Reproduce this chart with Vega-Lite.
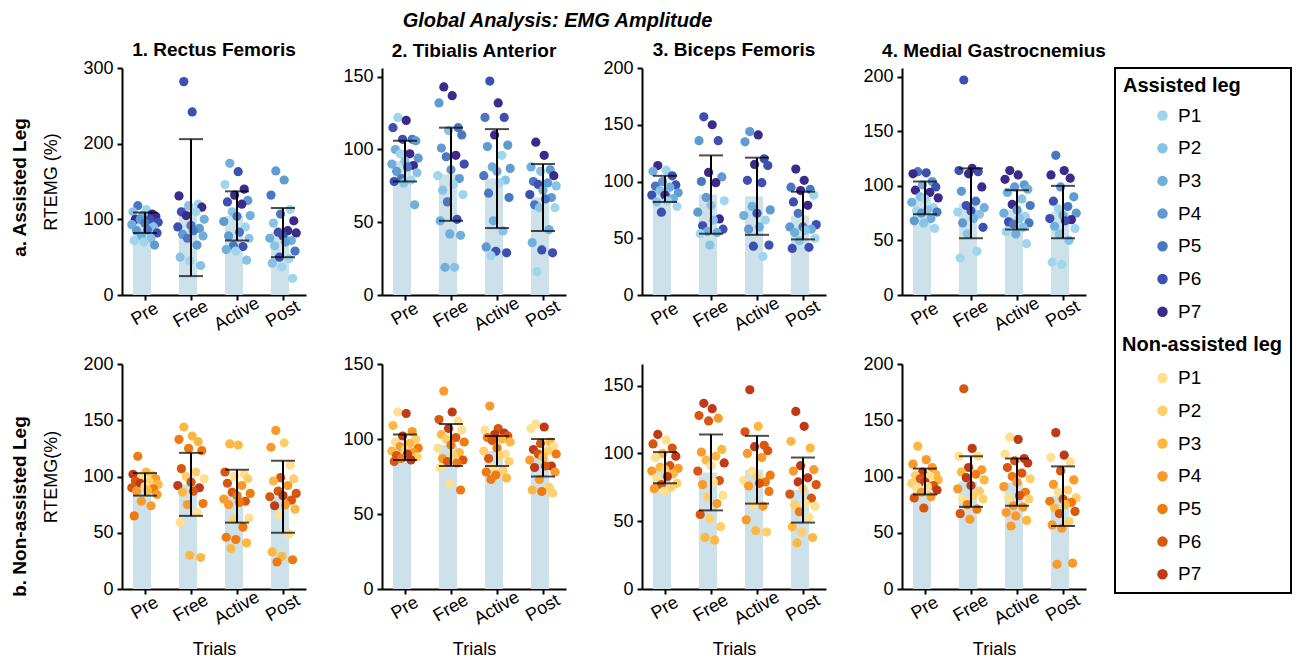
{
  "$schema": "https://vega.github.io/schema/vega-lite/v6.json",
  "background": "white",
  "padding": {"left": 10, "top": 11, "right": 5, "bottom": 5},
  "title": {"text": "Global Analysis: EMG Amplitude", "fontStyle": "italic", "fontWeight": "bold", "fontSize": 20, "anchor": "middle", "offset": 10, "dx": -94},
  "datasets": {
    "bars": [
      {"leg": "A", "muscle": "RF", "trial": "Pre", "mean": 95.5, "lo": 82, "hi": 109},
      {"leg": "A", "muscle": "RF", "trial": "Free", "mean": 115.5, "lo": 25, "hi": 206},
      {"leg": "A", "muscle": "RF", "trial": "Active", "mean": 104.5, "lo": 72, "hi": 137},
      {"leg": "A", "muscle": "RF", "trial": "Post", "mean": 82.5, "lo": 50, "hi": 115},
      {"leg": "A", "muscle": "TA", "trial": "Pre", "mean": 92, "lo": 78, "hi": 106},
      {"leg": "A", "muscle": "TA", "trial": "Free", "mean": 83, "lo": 51, "hi": 115},
      {"leg": "A", "muscle": "TA", "trial": "Active", "mean": 80, "lo": 46, "hi": 114},
      {"leg": "A", "muscle": "TA", "trial": "Post", "mean": 67, "lo": 44, "hi": 90},
      {"leg": "A", "muscle": "BF", "trial": "Pre", "mean": 93, "lo": 82, "hi": 105},
      {"leg": "A", "muscle": "BF", "trial": "Free", "mean": 88.5, "lo": 54, "hi": 123},
      {"leg": "A", "muscle": "BF", "trial": "Active", "mean": 87, "lo": 53, "hi": 121},
      {"leg": "A", "muscle": "BF", "trial": "Post", "mean": 70, "lo": 49, "hi": 91},
      {"leg": "A", "muscle": "MG", "trial": "Pre", "mean": 89, "lo": 74, "hi": 104},
      {"leg": "A", "muscle": "MG", "trial": "Free", "mean": 84, "lo": 52, "hi": 116},
      {"leg": "A", "muscle": "MG", "trial": "Active", "mean": 78, "lo": 60, "hi": 96},
      {"leg": "A", "muscle": "MG", "trial": "Post", "mean": 76, "lo": 52, "hi": 100},
      {"leg": "N", "muscle": "RF", "trial": "Pre", "mean": 93, "lo": 83, "hi": 103},
      {"leg": "N", "muscle": "RF", "trial": "Free", "mean": 93, "lo": 65, "hi": 121},
      {"leg": "N", "muscle": "RF", "trial": "Active", "mean": 82.5, "lo": 59, "hi": 106},
      {"leg": "N", "muscle": "RF", "trial": "Post", "mean": 82, "lo": 50, "hi": 114},
      {"leg": "N", "muscle": "TA", "trial": "Pre", "mean": 94.5, "lo": 86, "hi": 103},
      {"leg": "N", "muscle": "TA", "trial": "Free", "mean": 96, "lo": 82, "hi": 110},
      {"leg": "N", "muscle": "TA", "trial": "Active", "mean": 92, "lo": 82, "hi": 102},
      {"leg": "N", "muscle": "TA", "trial": "Post", "mean": 87.5, "lo": 75, "hi": 100},
      {"leg": "N", "muscle": "BF", "trial": "Pre", "mean": 89.5, "lo": 78, "hi": 101},
      {"leg": "N", "muscle": "BF", "trial": "Free", "mean": 86, "lo": 58, "hi": 114},
      {"leg": "N", "muscle": "BF", "trial": "Active", "mean": 88, "lo": 63, "hi": 113},
      {"leg": "N", "muscle": "BF", "trial": "Post", "mean": 73, "lo": 49, "hi": 97},
      {"leg": "N", "muscle": "MG", "trial": "Pre", "mean": 95.5, "lo": 84, "hi": 107},
      {"leg": "N", "muscle": "MG", "trial": "Free", "mean": 95.5, "lo": 73, "hi": 118},
      {"leg": "N", "muscle": "MG", "trial": "Active", "mean": 95, "lo": 74, "hi": 116},
      {"leg": "N", "muscle": "MG", "trial": "Post", "mean": 82.5, "lo": 56, "hi": 109}
    ],
    "A_RF": [
      {"trial": "Pre", "p": "P5", "v": 118}, {"trial": "Pre", "p": "P1", "v": 113}, {"trial": "Pre", "p": "P2", "v": 110}, {"trial": "Pre", "p": "P7", "v": 107}, {"trial": "Pre", "p": "P3", "v": 105}, {"trial": "Pre", "p": "P7", "v": 104}, {"trial": "Pre", "p": "P7", "v": 100}, {"trial": "Pre", "p": "P6", "v": 100}, {"trial": "Pre", "p": "P4", "v": 100}, {"trial": "Pre", "p": "P6", "v": 96}, {"trial": "Pre", "p": "P5", "v": 95}, {"trial": "Pre", "p": "P3", "v": 93}, {"trial": "Pre", "p": "P2", "v": 90}, {"trial": "Pre", "p": "P5", "v": 86}, {"trial": "Pre", "p": "P4", "v": 85}, {"trial": "Pre", "p": "P6", "v": 82}, {"trial": "Pre", "p": "P3", "v": 78}, {"trial": "Pre", "p": "P2", "v": 75}, {"trial": "Pre", "p": "P1", "v": 72}, {"trial": "Pre", "p": "P1", "v": 70}, {"trial": "Pre", "p": "P4", "v": 66},
      {"trial": "Free", "p": "P6", "v": 282}, {"trial": "Free", "p": "P6", "v": 242}, {"trial": "Free", "p": "P7", "v": 131}, {"trial": "Free", "p": "P1", "v": 120}, {"trial": "Free", "p": "P2", "v": 118}, {"trial": "Free", "p": "P7", "v": 116}, {"trial": "Free", "p": "P6", "v": 110}, {"trial": "Free", "p": "P1", "v": 110}, {"trial": "Free", "p": "P7", "v": 105}, {"trial": "Free", "p": "P3", "v": 100}, {"trial": "Free", "p": "P5", "v": 92}, {"trial": "Free", "p": "P6", "v": 90}, {"trial": "Free", "p": "P4", "v": 88}, {"trial": "Free", "p": "P5", "v": 85}, {"trial": "Free", "p": "P4", "v": 80}, {"trial": "Free", "p": "P3", "v": 78}, {"trial": "Free", "p": "P5", "v": 75}, {"trial": "Free", "p": "P4", "v": 66}, {"trial": "Free", "p": "P2", "v": 50}, {"trial": "Free", "p": "P1", "v": 45}, {"trial": "Free", "p": "P2", "v": 39},
      {"trial": "Active", "p": "P3", "v": 174}, {"trial": "Active", "p": "P6", "v": 163}, {"trial": "Active", "p": "P1", "v": 146}, {"trial": "Active", "p": "P7", "v": 140}, {"trial": "Active", "p": "P7", "v": 132}, {"trial": "Active", "p": "P4", "v": 125}, {"trial": "Active", "p": "P6", "v": 123}, {"trial": "Active", "p": "P7", "v": 120}, {"trial": "Active", "p": "P2", "v": 110}, {"trial": "Active", "p": "P3", "v": 105}, {"trial": "Active", "p": "P5", "v": 104}, {"trial": "Active", "p": "P4", "v": 97}, {"trial": "Active", "p": "P1", "v": 90}, {"trial": "Active", "p": "P5", "v": 83}, {"trial": "Active", "p": "P4", "v": 78}, {"trial": "Active", "p": "P2", "v": 75}, {"trial": "Active", "p": "P5", "v": 65}, {"trial": "Active", "p": "P6", "v": 64}, {"trial": "Active", "p": "P3", "v": 60}, {"trial": "Active", "p": "P1", "v": 58}, {"trial": "Active", "p": "P2", "v": 46},
      {"trial": "Post", "p": "P4", "v": 164}, {"trial": "Post", "p": "P4", "v": 152}, {"trial": "Post", "p": "P5", "v": 132}, {"trial": "Post", "p": "P1", "v": 113}, {"trial": "Post", "p": "P5", "v": 107}, {"trial": "Post", "p": "P7", "v": 98}, {"trial": "Post", "p": "P2", "v": 95}, {"trial": "Post", "p": "P7", "v": 85}, {"trial": "Post", "p": "P6", "v": 83}, {"trial": "Post", "p": "P7", "v": 82}, {"trial": "Post", "p": "P6", "v": 78}, {"trial": "Post", "p": "P3", "v": 75}, {"trial": "Post", "p": "P3", "v": 72}, {"trial": "Post", "p": "P4", "v": 70}, {"trial": "Post", "p": "P2", "v": 65}, {"trial": "Post", "p": "P5", "v": 58}, {"trial": "Post", "p": "P6", "v": 50}, {"trial": "Post", "p": "P1", "v": 48}, {"trial": "Post", "p": "P2", "v": 42}, {"trial": "Post", "p": "P1", "v": 37}, {"trial": "Post", "p": "P1", "v": 22}
    ],
    "A_TA": [
      {"trial": "Pre", "p": "P1", "v": 122}, {"trial": "Pre", "p": "P7", "v": 120}, {"trial": "Pre", "p": "P6", "v": 115}, {"trial": "Pre", "p": "P5", "v": 107}, {"trial": "Pre", "p": "P6", "v": 107}, {"trial": "Pre", "p": "P4", "v": 106}, {"trial": "Pre", "p": "P3", "v": 100}, {"trial": "Pre", "p": "P7", "v": 97}, {"trial": "Pre", "p": "P1", "v": 97}, {"trial": "Pre", "p": "P4", "v": 94}, {"trial": "Pre", "p": "P2", "v": 92}, {"trial": "Pre", "p": "P3", "v": 90}, {"trial": "Pre", "p": "P7", "v": 89}, {"trial": "Pre", "p": "P5", "v": 88}, {"trial": "Pre", "p": "P4", "v": 85}, {"trial": "Pre", "p": "P2", "v": 84}, {"trial": "Pre", "p": "P5", "v": 80}, {"trial": "Pre", "p": "P1", "v": 79}, {"trial": "Pre", "p": "P6", "v": 78}, {"trial": "Pre", "p": "P2", "v": 77}, {"trial": "Pre", "p": "P3", "v": 62},
      {"trial": "Free", "p": "P7", "v": 143}, {"trial": "Free", "p": "P7", "v": 137}, {"trial": "Free", "p": "P4", "v": 132}, {"trial": "Free", "p": "P5", "v": 115}, {"trial": "Free", "p": "P2", "v": 113}, {"trial": "Free", "p": "P5", "v": 110}, {"trial": "Free", "p": "P4", "v": 101}, {"trial": "Free", "p": "P7", "v": 96}, {"trial": "Free", "p": "P5", "v": 95}, {"trial": "Free", "p": "P6", "v": 90}, {"trial": "Free", "p": "P4", "v": 86}, {"trial": "Free", "p": "P1", "v": 82}, {"trial": "Free", "p": "P4", "v": 80}, {"trial": "Free", "p": "P1", "v": 76}, {"trial": "Free", "p": "P2", "v": 72}, {"trial": "Free", "p": "P1", "v": 69}, {"trial": "Free", "p": "P5", "v": 64}, {"trial": "Free", "p": "P6", "v": 52}, {"trial": "Free", "p": "P3", "v": 51}, {"trial": "Free", "p": "P3", "v": 42}, {"trial": "Free", "p": "P3", "v": 41}, {"trial": "Free", "p": "P3", "v": 19}, {"trial": "Free", "p": "P2", "v": 19},
      {"trial": "Active", "p": "P6", "v": 147}, {"trial": "Active", "p": "P7", "v": 132}, {"trial": "Active", "p": "P5", "v": 122}, {"trial": "Active", "p": "P6", "v": 122}, {"trial": "Active", "p": "P7", "v": 110}, {"trial": "Active", "p": "P4", "v": 103}, {"trial": "Active", "p": "P4", "v": 102}, {"trial": "Active", "p": "P1", "v": 96}, {"trial": "Active", "p": "P3", "v": 88}, {"trial": "Active", "p": "P4", "v": 87}, {"trial": "Active", "p": "P3", "v": 85}, {"trial": "Active", "p": "P5", "v": 82}, {"trial": "Active", "p": "P2", "v": 79}, {"trial": "Active", "p": "P1", "v": 77}, {"trial": "Active", "p": "P5", "v": 70}, {"trial": "Active", "p": "P5", "v": 67}, {"trial": "Active", "p": "P3", "v": 51}, {"trial": "Active", "p": "P2", "v": 44}, {"trial": "Active", "p": "P4", "v": 33}, {"trial": "Active", "p": "P6", "v": 30}, {"trial": "Active", "p": "P6", "v": 29}, {"trial": "Active", "p": "P1", "v": 27},
      {"trial": "Post", "p": "P7", "v": 105}, {"trial": "Post", "p": "P7", "v": 96}, {"trial": "Post", "p": "P3", "v": 88}, {"trial": "Post", "p": "P4", "v": 86}, {"trial": "Post", "p": "P2", "v": 85}, {"trial": "Post", "p": "P7", "v": 82}, {"trial": "Post", "p": "P5", "v": 78}, {"trial": "Post", "p": "P4", "v": 77}, {"trial": "Post", "p": "P6", "v": 76}, {"trial": "Post", "p": "P2", "v": 75}, {"trial": "Post", "p": "P3", "v": 72}, {"trial": "Post", "p": "P6", "v": 69}, {"trial": "Post", "p": "P4", "v": 67}, {"trial": "Post", "p": "P5", "v": 66}, {"trial": "Post", "p": "P5", "v": 62}, {"trial": "Post", "p": "P1", "v": 60}, {"trial": "Post", "p": "P2", "v": 60}, {"trial": "Post", "p": "P3", "v": 45}, {"trial": "Post", "p": "P3", "v": 36}, {"trial": "Post", "p": "P6", "v": 31}, {"trial": "Post", "p": "P6", "v": 29}, {"trial": "Post", "p": "P1", "v": 16}
    ],
    "A_BF": [
      {"trial": "Pre", "p": "P7", "v": 114}, {"trial": "Pre", "p": "P1", "v": 110}, {"trial": "Pre", "p": "P3", "v": 109}, {"trial": "Pre", "p": "P6", "v": 105}, {"trial": "Pre", "p": "P4", "v": 100}, {"trial": "Pre", "p": "P6", "v": 97}, {"trial": "Pre", "p": "P5", "v": 96}, {"trial": "Pre", "p": "P3", "v": 95}, {"trial": "Pre", "p": "P2", "v": 92}, {"trial": "Pre", "p": "P4", "v": 90}, {"trial": "Pre", "p": "P7", "v": 88}, {"trial": "Pre", "p": "P6", "v": 88}, {"trial": "Pre", "p": "P3", "v": 85}, {"trial": "Pre", "p": "P1", "v": 83}, {"trial": "Pre", "p": "P2", "v": 82}, {"trial": "Pre", "p": "P1", "v": 78}, {"trial": "Pre", "p": "P6", "v": 73},
      {"trial": "Free", "p": "P6", "v": 157}, {"trial": "Free", "p": "P7", "v": 150}, {"trial": "Free", "p": "P4", "v": 136}, {"trial": "Free", "p": "P6", "v": 136}, {"trial": "Free", "p": "P7", "v": 108}, {"trial": "Free", "p": "P4", "v": 104}, {"trial": "Free", "p": "P5", "v": 100}, {"trial": "Free", "p": "P7", "v": 99}, {"trial": "Free", "p": "P4", "v": 86}, {"trial": "Free", "p": "P1", "v": 83}, {"trial": "Free", "p": "P2", "v": 79}, {"trial": "Free", "p": "P4", "v": 73}, {"trial": "Free", "p": "P7", "v": 67}, {"trial": "Free", "p": "P2", "v": 66}, {"trial": "Free", "p": "P6", "v": 61}, {"trial": "Free", "p": "P6", "v": 58}, {"trial": "Free", "p": "P3", "v": 56}, {"trial": "Free", "p": "P3", "v": 55}, {"trial": "Free", "p": "P1", "v": 54}, {"trial": "Free", "p": "P2", "v": 44},
      {"trial": "Active", "p": "P4", "v": 144}, {"trial": "Active", "p": "P7", "v": 141}, {"trial": "Active", "p": "P4", "v": 135}, {"trial": "Active", "p": "P6", "v": 120}, {"trial": "Active", "p": "P7", "v": 115}, {"trial": "Active", "p": "P6", "v": 114}, {"trial": "Active", "p": "P6", "v": 101}, {"trial": "Active", "p": "P6", "v": 99}, {"trial": "Active", "p": "P3", "v": 78}, {"trial": "Active", "p": "P4", "v": 75}, {"trial": "Active", "p": "P6", "v": 72}, {"trial": "Active", "p": "P3", "v": 70}, {"trial": "Active", "p": "P1", "v": 66}, {"trial": "Active", "p": "P3", "v": 60}, {"trial": "Active", "p": "P4", "v": 58}, {"trial": "Active", "p": "P6", "v": 44}, {"trial": "Active", "p": "P6", "v": 43}, {"trial": "Active", "p": "P1", "v": 34},
      {"trial": "Post", "p": "P7", "v": 111}, {"trial": "Post", "p": "P7", "v": 101}, {"trial": "Post", "p": "P5", "v": 95}, {"trial": "Post", "p": "P5", "v": 93}, {"trial": "Post", "p": "P7", "v": 92}, {"trial": "Post", "p": "P1", "v": 88}, {"trial": "Post", "p": "P6", "v": 82}, {"trial": "Post", "p": "P7", "v": 79}, {"trial": "Post", "p": "P5", "v": 72}, {"trial": "Post", "p": "P6", "v": 62}, {"trial": "Post", "p": "P5", "v": 60}, {"trial": "Post", "p": "P4", "v": 60}, {"trial": "Post", "p": "P3", "v": 58}, {"trial": "Post", "p": "P2", "v": 57}, {"trial": "Post", "p": "P3", "v": 55}, {"trial": "Post", "p": "P1", "v": 50}, {"trial": "Post", "p": "P2", "v": 48}, {"trial": "Post", "p": "P6", "v": 42}, {"trial": "Post", "p": "P6", "v": 41}
    ],
    "A_MG": [
      {"trial": "Pre", "p": "P5", "v": 113}, {"trial": "Pre", "p": "P6", "v": 112}, {"trial": "Pre", "p": "P7", "v": 111}, {"trial": "Pre", "p": "P4", "v": 104}, {"trial": "Pre", "p": "P3", "v": 101}, {"trial": "Pre", "p": "P6", "v": 99}, {"trial": "Pre", "p": "P7", "v": 96}, {"trial": "Pre", "p": "P7", "v": 94}, {"trial": "Pre", "p": "P2", "v": 90}, {"trial": "Pre", "p": "P7", "v": 89}, {"trial": "Pre", "p": "P1", "v": 88}, {"trial": "Pre", "p": "P3", "v": 85}, {"trial": "Pre", "p": "P1", "v": 80}, {"trial": "Pre", "p": "P2", "v": 78}, {"trial": "Pre", "p": "P1", "v": 77}, {"trial": "Pre", "p": "P5", "v": 76}, {"trial": "Pre", "p": "P4", "v": 75}, {"trial": "Pre", "p": "P3", "v": 70}, {"trial": "Pre", "p": "P4", "v": 68}, {"trial": "Pre", "p": "P2", "v": 66}, {"trial": "Pre", "p": "P1", "v": 61},
      {"trial": "Free", "p": "P6", "v": 197}, {"trial": "Free", "p": "P7", "v": 116}, {"trial": "Free", "p": "P6", "v": 114}, {"trial": "Free", "p": "P6", "v": 113}, {"trial": "Free", "p": "P7", "v": 111}, {"trial": "Free", "p": "P7", "v": 99}, {"trial": "Free", "p": "P4", "v": 95}, {"trial": "Free", "p": "P5", "v": 86}, {"trial": "Free", "p": "P6", "v": 82}, {"trial": "Free", "p": "P3", "v": 80}, {"trial": "Free", "p": "P6", "v": 77}, {"trial": "Free", "p": "P1", "v": 76}, {"trial": "Free", "p": "P2", "v": 74}, {"trial": "Free", "p": "P3", "v": 70}, {"trial": "Free", "p": "P4", "v": 66}, {"trial": "Free", "p": "P6", "v": 62}, {"trial": "Free", "p": "P2", "v": 56}, {"trial": "Free", "p": "P1", "v": 40}, {"trial": "Free", "p": "P1", "v": 34},
      {"trial": "Active", "p": "P7", "v": 114}, {"trial": "Active", "p": "P7", "v": 110}, {"trial": "Active", "p": "P7", "v": 106}, {"trial": "Active", "p": "P4", "v": 101}, {"trial": "Active", "p": "P4", "v": 99}, {"trial": "Active", "p": "P3", "v": 97}, {"trial": "Active", "p": "P3", "v": 94}, {"trial": "Active", "p": "P2", "v": 88}, {"trial": "Active", "p": "P7", "v": 83}, {"trial": "Active", "p": "P5", "v": 82}, {"trial": "Active", "p": "P4", "v": 78}, {"trial": "Active", "p": "P3", "v": 75}, {"trial": "Active", "p": "P1", "v": 72}, {"trial": "Active", "p": "P2", "v": 70}, {"trial": "Active", "p": "P6", "v": 67}, {"trial": "Active", "p": "P5", "v": 66}, {"trial": "Active", "p": "P5", "v": 65}, {"trial": "Active", "p": "P2", "v": 62}, {"trial": "Active", "p": "P1", "v": 58}, {"trial": "Active", "p": "P3", "v": 56}, {"trial": "Active", "p": "P1", "v": 47},
      {"trial": "Post", "p": "P5", "v": 128}, {"trial": "Post", "p": "P7", "v": 114}, {"trial": "Post", "p": "P7", "v": 110}, {"trial": "Post", "p": "P7", "v": 107}, {"trial": "Post", "p": "P4", "v": 99}, {"trial": "Post", "p": "P4", "v": 90}, {"trial": "Post", "p": "P6", "v": 86}, {"trial": "Post", "p": "P5", "v": 81}, {"trial": "Post", "p": "P1", "v": 79}, {"trial": "Post", "p": "P4", "v": 75}, {"trial": "Post", "p": "P3", "v": 73}, {"trial": "Post", "p": "P6", "v": 70}, {"trial": "Post", "p": "P7", "v": 69}, {"trial": "Post", "p": "P6", "v": 68}, {"trial": "Post", "p": "P3", "v": 63}, {"trial": "Post", "p": "P1", "v": 61}, {"trial": "Post", "p": "P2", "v": 56}, {"trial": "Post", "p": "P2", "v": 50}, {"trial": "Post", "p": "P1", "v": 30}, {"trial": "Post", "p": "P1", "v": 28}
    ],
    "N_RF": [
      {"trial": "Pre", "p": "P5", "v": 118}, {"trial": "Pre", "p": "P3", "v": 104}, {"trial": "Pre", "p": "P7", "v": 102}, {"trial": "Pre", "p": "P2", "v": 101}, {"trial": "Pre", "p": "P1", "v": 100}, {"trial": "Pre", "p": "P4", "v": 98}, {"trial": "Pre", "p": "P6", "v": 96}, {"trial": "Pre", "p": "P2", "v": 95}, {"trial": "Pre", "p": "P7", "v": 94}, {"trial": "Pre", "p": "P3", "v": 93}, {"trial": "Pre", "p": "P1", "v": 91}, {"trial": "Pre", "p": "P6", "v": 90}, {"trial": "Pre", "p": "P5", "v": 89}, {"trial": "Pre", "p": "P3", "v": 88}, {"trial": "Pre", "p": "P4", "v": 87}, {"trial": "Pre", "p": "P4", "v": 84}, {"trial": "Pre", "p": "P4", "v": 78}, {"trial": "Pre", "p": "P4", "v": 74}, {"trial": "Pre", "p": "P5", "v": 65},
      {"trial": "Free", "p": "P3", "v": 144}, {"trial": "Free", "p": "P3", "v": 136}, {"trial": "Free", "p": "P5", "v": 133}, {"trial": "Free", "p": "P3", "v": 131}, {"trial": "Free", "p": "P5", "v": 125}, {"trial": "Free", "p": "P5", "v": 123}, {"trial": "Free", "p": "P6", "v": 107}, {"trial": "Free", "p": "P2", "v": 104}, {"trial": "Free", "p": "P2", "v": 100}, {"trial": "Free", "p": "P1", "v": 98}, {"trial": "Free", "p": "P6", "v": 95}, {"trial": "Free", "p": "P7", "v": 92}, {"trial": "Free", "p": "P7", "v": 90}, {"trial": "Free", "p": "P6", "v": 87}, {"trial": "Free", "p": "P3", "v": 86}, {"trial": "Free", "p": "P5", "v": 76}, {"trial": "Free", "p": "P4", "v": 75}, {"trial": "Free", "p": "P1", "v": 68}, {"trial": "Free", "p": "P1", "v": 59}, {"trial": "Free", "p": "P3", "v": 30}, {"trial": "Free", "p": "P3", "v": 28},
      {"trial": "Active", "p": "P3", "v": 129}, {"trial": "Active", "p": "P3", "v": 128}, {"trial": "Active", "p": "P6", "v": 104}, {"trial": "Active", "p": "P1", "v": 102}, {"trial": "Active", "p": "P1", "v": 100}, {"trial": "Active", "p": "P2", "v": 98}, {"trial": "Active", "p": "P6", "v": 94}, {"trial": "Active", "p": "P4", "v": 92}, {"trial": "Active", "p": "P6", "v": 86}, {"trial": "Active", "p": "P5", "v": 85}, {"trial": "Active", "p": "P5", "v": 83}, {"trial": "Active", "p": "P4", "v": 80}, {"trial": "Active", "p": "P6", "v": 78}, {"trial": "Active", "p": "P5", "v": 77}, {"trial": "Active", "p": "P4", "v": 75}, {"trial": "Active", "p": "P1", "v": 63}, {"trial": "Active", "p": "P2", "v": 62}, {"trial": "Active", "p": "P5", "v": 55}, {"trial": "Active", "p": "P5", "v": 46}, {"trial": "Active", "p": "P5", "v": 44}, {"trial": "Active", "p": "P3", "v": 41}, {"trial": "Active", "p": "P3", "v": 36},
      {"trial": "Post", "p": "P4", "v": 141}, {"trial": "Post", "p": "P2", "v": 130}, {"trial": "Post", "p": "P4", "v": 126}, {"trial": "Post", "p": "P1", "v": 110}, {"trial": "Post", "p": "P6", "v": 99}, {"trial": "Post", "p": "P2", "v": 98}, {"trial": "Post", "p": "P3", "v": 96}, {"trial": "Post", "p": "P4", "v": 92}, {"trial": "Post", "p": "P6", "v": 87}, {"trial": "Post", "p": "P6", "v": 85}, {"trial": "Post", "p": "P7", "v": 83}, {"trial": "Post", "p": "P6", "v": 82}, {"trial": "Post", "p": "P6", "v": 79}, {"trial": "Post", "p": "P4", "v": 75}, {"trial": "Post", "p": "P7", "v": 74}, {"trial": "Post", "p": "P3", "v": 71}, {"trial": "Post", "p": "P1", "v": 66}, {"trial": "Post", "p": "P1", "v": 49}, {"trial": "Post", "p": "P3", "v": 33}, {"trial": "Post", "p": "P3", "v": 29}, {"trial": "Post", "p": "P5", "v": 26}, {"trial": "Post", "p": "P5", "v": 24}
    ],
    "N_TA": [
      {"trial": "Pre", "p": "P1", "v": 118}, {"trial": "Pre", "p": "P7", "v": 117}, {"trial": "Pre", "p": "P3", "v": 109}, {"trial": "Pre", "p": "P4", "v": 105}, {"trial": "Pre", "p": "P7", "v": 102}, {"trial": "Pre", "p": "P2", "v": 100}, {"trial": "Pre", "p": "P1", "v": 98}, {"trial": "Pre", "p": "P3", "v": 97}, {"trial": "Pre", "p": "P4", "v": 95}, {"trial": "Pre", "p": "P5", "v": 94}, {"trial": "Pre", "p": "P2", "v": 93}, {"trial": "Pre", "p": "P3", "v": 92}, {"trial": "Pre", "p": "P4", "v": 91}, {"trial": "Pre", "p": "P7", "v": 90}, {"trial": "Pre", "p": "P6", "v": 89}, {"trial": "Pre", "p": "P2", "v": 88}, {"trial": "Pre", "p": "P5", "v": 87}, {"trial": "Pre", "p": "P7", "v": 86}, {"trial": "Pre", "p": "P6", "v": 85},
      {"trial": "Free", "p": "P4", "v": 132}, {"trial": "Free", "p": "P7", "v": 118}, {"trial": "Free", "p": "P6", "v": 113}, {"trial": "Free", "p": "P1", "v": 112}, {"trial": "Free", "p": "P7", "v": 107}, {"trial": "Free", "p": "P1", "v": 106}, {"trial": "Free", "p": "P3", "v": 103}, {"trial": "Free", "p": "P6", "v": 101}, {"trial": "Free", "p": "P2", "v": 100}, {"trial": "Free", "p": "P5", "v": 98}, {"trial": "Free", "p": "P5", "v": 96}, {"trial": "Free", "p": "P1", "v": 94}, {"trial": "Free", "p": "P3", "v": 91}, {"trial": "Free", "p": "P2", "v": 89}, {"trial": "Free", "p": "P4", "v": 87}, {"trial": "Free", "p": "P6", "v": 86}, {"trial": "Free", "p": "P6", "v": 85}, {"trial": "Free", "p": "P5", "v": 84}, {"trial": "Free", "p": "P1", "v": 81}, {"trial": "Free", "p": "P1", "v": 70}, {"trial": "Free", "p": "P5", "v": 66},
      {"trial": "Active", "p": "P4", "v": 122}, {"trial": "Active", "p": "P6", "v": 107}, {"trial": "Active", "p": "P1", "v": 106}, {"trial": "Active", "p": "P7", "v": 104}, {"trial": "Active", "p": "P7", "v": 103}, {"trial": "Active", "p": "P6", "v": 102}, {"trial": "Active", "p": "P5", "v": 101}, {"trial": "Active", "p": "P3", "v": 100}, {"trial": "Active", "p": "P6", "v": 99}, {"trial": "Active", "p": "P3", "v": 98}, {"trial": "Active", "p": "P5", "v": 94}, {"trial": "Active", "p": "P2", "v": 92}, {"trial": "Active", "p": "P1", "v": 90}, {"trial": "Active", "p": "P2", "v": 89}, {"trial": "Active", "p": "P6", "v": 87}, {"trial": "Active", "p": "P2", "v": 85}, {"trial": "Active", "p": "P1", "v": 81}, {"trial": "Active", "p": "P2", "v": 79}, {"trial": "Active", "p": "P5", "v": 78}, {"trial": "Active", "p": "P5", "v": 76}, {"trial": "Active", "p": "P3", "v": 74}, {"trial": "Active", "p": "P5", "v": 73},
      {"trial": "Post", "p": "P1", "v": 110}, {"trial": "Post", "p": "P7", "v": 108}, {"trial": "Post", "p": "P1", "v": 107}, {"trial": "Post", "p": "P3", "v": 98}, {"trial": "Post", "p": "P6", "v": 97}, {"trial": "Post", "p": "P1", "v": 95}, {"trial": "Post", "p": "P7", "v": 93}, {"trial": "Post", "p": "P2", "v": 92}, {"trial": "Post", "p": "P6", "v": 90}, {"trial": "Post", "p": "P5", "v": 90}, {"trial": "Post", "p": "P3", "v": 88}, {"trial": "Post", "p": "P4", "v": 86}, {"trial": "Post", "p": "P7", "v": 82}, {"trial": "Post", "p": "P6", "v": 82}, {"trial": "Post", "p": "P7", "v": 81}, {"trial": "Post", "p": "P4", "v": 78}, {"trial": "Post", "p": "P4", "v": 73}, {"trial": "Post", "p": "P2", "v": 68}, {"trial": "Post", "p": "P3", "v": 66}, {"trial": "Post", "p": "P5", "v": 65}, {"trial": "Post", "p": "P2", "v": 64}
    ],
    "N_BF": [
      {"trial": "Pre", "p": "P7", "v": 114}, {"trial": "Pre", "p": "P1", "v": 110}, {"trial": "Pre", "p": "P6", "v": 107}, {"trial": "Pre", "p": "P6", "v": 104}, {"trial": "Pre", "p": "P3", "v": 100}, {"trial": "Pre", "p": "P7", "v": 98}, {"trial": "Pre", "p": "P1", "v": 97}, {"trial": "Pre", "p": "P6", "v": 91}, {"trial": "Pre", "p": "P3", "v": 90}, {"trial": "Pre", "p": "P4", "v": 89}, {"trial": "Pre", "p": "P2", "v": 88}, {"trial": "Pre", "p": "P4", "v": 87}, {"trial": "Pre", "p": "P3", "v": 85}, {"trial": "Pre", "p": "P7", "v": 83}, {"trial": "Pre", "p": "P1", "v": 82}, {"trial": "Pre", "p": "P2", "v": 78}, {"trial": "Pre", "p": "P6", "v": 77}, {"trial": "Pre", "p": "P2", "v": 75}, {"trial": "Pre", "p": "P4", "v": 74}, {"trial": "Pre", "p": "P1", "v": 72},
      {"trial": "Free", "p": "P7", "v": 137}, {"trial": "Free", "p": "P7", "v": 133}, {"trial": "Free", "p": "P6", "v": 128}, {"trial": "Free", "p": "P4", "v": 126}, {"trial": "Free", "p": "P6", "v": 124}, {"trial": "Free", "p": "P3", "v": 103}, {"trial": "Free", "p": "P4", "v": 101}, {"trial": "Free", "p": "P3", "v": 98}, {"trial": "Free", "p": "P3", "v": 95}, {"trial": "Free", "p": "P7", "v": 93}, {"trial": "Free", "p": "P1", "v": 91}, {"trial": "Free", "p": "P6", "v": 87}, {"trial": "Free", "p": "P6", "v": 80}, {"trial": "Free", "p": "P1", "v": 79}, {"trial": "Free", "p": "P4", "v": 77}, {"trial": "Free", "p": "P1", "v": 69}, {"trial": "Free", "p": "P2", "v": 68}, {"trial": "Free", "p": "P4", "v": 63}, {"trial": "Free", "p": "P6", "v": 55}, {"trial": "Free", "p": "P2", "v": 52}, {"trial": "Free", "p": "P2", "v": 46}, {"trial": "Free", "p": "P3", "v": 38}, {"trial": "Free", "p": "P3", "v": 36},
      {"trial": "Active", "p": "P7", "v": 147}, {"trial": "Active", "p": "P3", "v": 120}, {"trial": "Active", "p": "P6", "v": 116}, {"trial": "Active", "p": "P6", "v": 106}, {"trial": "Active", "p": "P7", "v": 105}, {"trial": "Active", "p": "P6", "v": 102}, {"trial": "Active", "p": "P4", "v": 100}, {"trial": "Active", "p": "P4", "v": 97}, {"trial": "Active", "p": "P1", "v": 87}, {"trial": "Active", "p": "P5", "v": 84}, {"trial": "Active", "p": "P2", "v": 83}, {"trial": "Active", "p": "P1", "v": 80}, {"trial": "Active", "p": "P5", "v": 79}, {"trial": "Active", "p": "P6", "v": 78}, {"trial": "Active", "p": "P4", "v": 76}, {"trial": "Active", "p": "P5", "v": 72}, {"trial": "Active", "p": "P1", "v": 62}, {"trial": "Active", "p": "P4", "v": 61}, {"trial": "Active", "p": "P4", "v": 51}, {"trial": "Active", "p": "P3", "v": 43}, {"trial": "Active", "p": "P2", "v": 42},
      {"trial": "Post", "p": "P7", "v": 131}, {"trial": "Post", "p": "P7", "v": 120}, {"trial": "Post", "p": "P3", "v": 109}, {"trial": "Post", "p": "P3", "v": 104}, {"trial": "Post", "p": "P7", "v": 91}, {"trial": "Post", "p": "P4", "v": 88}, {"trial": "Post", "p": "P4", "v": 87}, {"trial": "Post", "p": "P7", "v": 82}, {"trial": "Post", "p": "P7", "v": 79}, {"trial": "Post", "p": "P6", "v": 77}, {"trial": "Post", "p": "P2", "v": 74}, {"trial": "Post", "p": "P6", "v": 70}, {"trial": "Post", "p": "P6", "v": 67}, {"trial": "Post", "p": "P1", "v": 63}, {"trial": "Post", "p": "P2", "v": 62}, {"trial": "Post", "p": "P1", "v": 61}, {"trial": "Post", "p": "P5", "v": 57}, {"trial": "Post", "p": "P1", "v": 53}, {"trial": "Post", "p": "P3", "v": 46}, {"trial": "Post", "p": "P2", "v": 42}, {"trial": "Post", "p": "P3", "v": 38}, {"trial": "Post", "p": "P3", "v": 34}
    ],
    "N_MG": [
      {"trial": "Pre", "p": "P3", "v": 127}, {"trial": "Pre", "p": "P4", "v": 115}, {"trial": "Pre", "p": "P4", "v": 111}, {"trial": "Pre", "p": "P4", "v": 108}, {"trial": "Pre", "p": "P7", "v": 104}, {"trial": "Pre", "p": "P3", "v": 102}, {"trial": "Pre", "p": "P2", "v": 101}, {"trial": "Pre", "p": "P1", "v": 100}, {"trial": "Pre", "p": "P6", "v": 98}, {"trial": "Pre", "p": "P3", "v": 97}, {"trial": "Pre", "p": "P7", "v": 95}, {"trial": "Pre", "p": "P2", "v": 94}, {"trial": "Pre", "p": "P6", "v": 92}, {"trial": "Pre", "p": "P1", "v": 91}, {"trial": "Pre", "p": "P1", "v": 90}, {"trial": "Pre", "p": "P7", "v": 88}, {"trial": "Pre", "p": "P4", "v": 86}, {"trial": "Pre", "p": "P4", "v": 82}, {"trial": "Pre", "p": "P6", "v": 81}, {"trial": "Pre", "p": "P6", "v": 72},
      {"trial": "Free", "p": "P6", "v": 178}, {"trial": "Free", "p": "P7", "v": 125}, {"trial": "Free", "p": "P1", "v": 118}, {"trial": "Free", "p": "P1", "v": 118}, {"trial": "Free", "p": "P7", "v": 108}, {"trial": "Free", "p": "P4", "v": 106}, {"trial": "Free", "p": "P3", "v": 104}, {"trial": "Free", "p": "P5", "v": 102}, {"trial": "Free", "p": "P7", "v": 99}, {"trial": "Free", "p": "P3", "v": 97}, {"trial": "Free", "p": "P7", "v": 92}, {"trial": "Free", "p": "P4", "v": 89}, {"trial": "Free", "p": "P2", "v": 87}, {"trial": "Free", "p": "P2", "v": 83}, {"trial": "Free", "p": "P1", "v": 80}, {"trial": "Free", "p": "P2", "v": 80}, {"trial": "Free", "p": "P5", "v": 75}, {"trial": "Free", "p": "P5", "v": 71}, {"trial": "Free", "p": "P6", "v": 67}, {"trial": "Free", "p": "P4", "v": 62},
      {"trial": "Active", "p": "P1", "v": 135}, {"trial": "Active", "p": "P7", "v": 133}, {"trial": "Active", "p": "P1", "v": 120}, {"trial": "Active", "p": "P7", "v": 116}, {"trial": "Active", "p": "P6", "v": 114}, {"trial": "Active", "p": "P7", "v": 112}, {"trial": "Active", "p": "P6", "v": 108}, {"trial": "Active", "p": "P6", "v": 103}, {"trial": "Active", "p": "P5", "v": 100}, {"trial": "Active", "p": "P2", "v": 98}, {"trial": "Active", "p": "P4", "v": 95}, {"trial": "Active", "p": "P4", "v": 91}, {"trial": "Active", "p": "P5", "v": 86}, {"trial": "Active", "p": "P6", "v": 83}, {"trial": "Active", "p": "P1", "v": 81}, {"trial": "Active", "p": "P2", "v": 80}, {"trial": "Active", "p": "P4", "v": 74}, {"trial": "Active", "p": "P4", "v": 73}, {"trial": "Active", "p": "P4", "v": 68}, {"trial": "Active", "p": "P4", "v": 65}, {"trial": "Active", "p": "P3", "v": 61}, {"trial": "Active", "p": "P4", "v": 56},
      {"trial": "Post", "p": "P7", "v": 139}, {"trial": "Post", "p": "P7", "v": 119}, {"trial": "Post", "p": "P1", "v": 117}, {"trial": "Post", "p": "P1", "v": 113}, {"trial": "Post", "p": "P6", "v": 105}, {"trial": "Post", "p": "P4", "v": 97}, {"trial": "Post", "p": "P4", "v": 93}, {"trial": "Post", "p": "P2", "v": 88}, {"trial": "Post", "p": "P1", "v": 86}, {"trial": "Post", "p": "P2", "v": 81}, {"trial": "Post", "p": "P6", "v": 80}, {"trial": "Post", "p": "P5", "v": 78}, {"trial": "Post", "p": "P5", "v": 77}, {"trial": "Post", "p": "P3", "v": 75}, {"trial": "Post", "p": "P3", "v": 72}, {"trial": "Post", "p": "P6", "v": 69}, {"trial": "Post", "p": "P6", "v": 67}, {"trial": "Post", "p": "P2", "v": 60}, {"trial": "Post", "p": "P4", "v": 57}, {"trial": "Post", "p": "P4", "v": 54}, {"trial": "Post", "p": "P4", "v": 23}, {"trial": "Post", "p": "P4", "v": 22}
    ]
  },
  "vconcat": [
    {
      "title": {"text": "a. Assisted Leg", "orient": "left", "anchor": "middle", "offset": 13},
      "spacing": 36,
      "hconcat": [
        {
          "width": 184, "height": 227,
          "title": {"text": "1. Rectus Femoris", "offset": -1},
          "data": {"name": "bars"},
          "transform": [{"filter": "datum.leg == 'A' && datum.muscle == 'RF'"}],
          "encoding": {"x": {"field": "trial", "type": "nominal", "scale": {"domain": ["Pre", "Free", "Active", "Post"], "paddingInner": 0.4, "paddingOuter": 0.2}, "axis": {"title": null}}},
          "layer": [
            {"mark": {"type": "bar", "color": "#cde1ea", "width": {"band": 0.87}},
             "encoding": {"y": {"field": "mean", "type": "quantitative", "title": "RTEMG (%)", "scale": {"domain": [0, 300], "nice": false}, "axis": {"values": [0, 100, 200, 300]}}}},
            {"data": {"name": "A_RF"},
             "transform": [{"window": [{"op": "row_number", "as": "k"}], "groupby": ["trial"]}, {"calculate": "'A' + slice(datum.p, 1)", "as": "key"}],
             "mark": {"type": "circle", "size": 85, "opacity": 1},
             "encoding": {
               "xOffset": {"field": "k", "type": "nominal", "scale": {"domain": [12, 3, 19, 7, 15, 1, 22, 9, 17, 5, 20, 11, 2, 14, 23, 8, 18, 4, 13, 21, 6, 16, 10]}},
               "y": {"field": "v", "type": "quantitative"},
               "color": {"field": "key", "type": "nominal", "scale": {"domain": ["A1", "A2", "A3", "A4", "A5", "A6", "A7", "Non-assisted leg", "N1", "N2", "N3", "N4", "N5", "N6", "N7"], "range": ["#9fd6ee", "#88c3e6", "#70aedb", "#5f9ad1", "#4a77c1", "#3d4fb0", "#3b2a8a", "#ffffff", "#fee08f", "#fecf6c", "#fdb843", "#f99a2b", "#ef7a10", "#d9560f", "#bf3a17"]},
                 "legend": {"title": "Assisted leg", "labelExpr": "length(datum.label) == 2 ? 'P' + slice(datum.label, 1) : datum.label",
                   "labelFontWeight": {"expr": "datum.value == 'Non-assisted leg' ? 'bold' : 'normal'"},
                   "labelFontSize": {"expr": "datum.value == 'Non-assisted leg' ? 20 : 19"},
                   "labelOffset": {"expr": "datum.value == 'Non-assisted leg' ? -50 : 6"}}}
             }},
            {"mark": {"type": "rule", "color": "black", "strokeWidth": 2},
             "encoding": {"y": {"field": "lo", "type": "quantitative"}, "y2": {"field": "hi"}}},
            {"transform": [{"fold": ["lo", "hi"], "as": ["end", "cap"]}],
             "mark": {"type": "tick", "color": "black", "thickness": 2, "size": 24},
             "encoding": {"y": {"field": "cap", "type": "quantitative"}}}
          ]
        },
        {
          "width": 184, "height": 227,
          "title": {"text": "2. Tibialis Anterior", "offset": 7},
          "data": {"name": "bars"},
          "transform": [{"filter": "datum.leg == 'A' && datum.muscle == 'TA'"}],
          "encoding": {"x": {"field": "trial", "type": "nominal", "scale": {"domain": ["Pre", "Free", "Active", "Post"], "paddingInner": 0.4, "paddingOuter": 0.2}, "axis": {"title": null}}},
          "layer": [
            {"mark": {"type": "bar", "color": "#cde1ea", "width": {"band": 0.87}},
             "encoding": {"y": {"field": "mean", "type": "quantitative", "title": null, "scale": {"domain": [0, 156], "nice": false}, "axis": {"values": [0, 50, 100, 150]}}}},
            {"data": {"name": "A_TA"},
             "transform": [{"window": [{"op": "row_number", "as": "k"}], "groupby": ["trial"]}, {"calculate": "'A' + slice(datum.p, 1)", "as": "key"}],
             "mark": {"type": "circle", "size": 85, "opacity": 1},
             "encoding": {
               "xOffset": {"field": "k", "type": "nominal", "scale": {"domain": [12, 3, 19, 7, 15, 1, 22, 9, 17, 5, 20, 11, 2, 14, 23, 8, 18, 4, 13, 21, 6, 16, 10]}},
               "y": {"field": "v", "type": "quantitative"},
               "color": {"field": "key", "type": "nominal", "scale": {"domain": ["A1", "A2", "A3", "A4", "A5", "A6", "A7", "Non-assisted leg", "N1", "N2", "N3", "N4", "N5", "N6", "N7"], "range": ["#9fd6ee", "#88c3e6", "#70aedb", "#5f9ad1", "#4a77c1", "#3d4fb0", "#3b2a8a", "#ffffff", "#fee08f", "#fecf6c", "#fdb843", "#f99a2b", "#ef7a10", "#d9560f", "#bf3a17"]},
                 "legend": {"title": "Assisted leg", "labelExpr": "length(datum.label) == 2 ? 'P' + slice(datum.label, 1) : datum.label",
                   "labelFontWeight": {"expr": "datum.value == 'Non-assisted leg' ? 'bold' : 'normal'"},
                   "labelFontSize": {"expr": "datum.value == 'Non-assisted leg' ? 20 : 19"},
                   "labelOffset": {"expr": "datum.value == 'Non-assisted leg' ? -50 : 6"}}}
             }},
            {"mark": {"type": "rule", "color": "black", "strokeWidth": 2},
             "encoding": {"y": {"field": "lo", "type": "quantitative"}, "y2": {"field": "hi"}}},
            {"transform": [{"fold": ["lo", "hi"], "as": ["end", "cap"]}],
             "mark": {"type": "tick", "color": "black", "thickness": 2, "size": 24},
             "encoding": {"y": {"field": "cap", "type": "quantitative"}}}
          ]
        },
        {
          "width": 184, "height": 227,
          "title": {"text": "3. Biceps Femoris", "offset": -1},
          "data": {"name": "bars"},
          "transform": [{"filter": "datum.leg == 'A' && datum.muscle == 'BF'"}],
          "encoding": {"x": {"field": "trial", "type": "nominal", "scale": {"domain": ["Pre", "Free", "Active", "Post"], "paddingInner": 0.4, "paddingOuter": 0.2}, "axis": {"title": null}}},
          "layer": [
            {"mark": {"type": "bar", "color": "#cde1ea", "width": {"band": 0.87}},
             "encoding": {"y": {"field": "mean", "type": "quantitative", "title": null, "scale": {"domain": [0, 200], "nice": false}, "axis": {"values": [0, 50, 100, 150, 200]}}}},
            {"data": {"name": "A_BF"},
             "transform": [{"window": [{"op": "row_number", "as": "k"}], "groupby": ["trial"]}, {"calculate": "'A' + slice(datum.p, 1)", "as": "key"}],
             "mark": {"type": "circle", "size": 85, "opacity": 1},
             "encoding": {
               "xOffset": {"field": "k", "type": "nominal", "scale": {"domain": [12, 3, 19, 7, 15, 1, 22, 9, 17, 5, 20, 11, 2, 14, 23, 8, 18, 4, 13, 21, 6, 16, 10]}},
               "y": {"field": "v", "type": "quantitative"},
               "color": {"field": "key", "type": "nominal", "scale": {"domain": ["A1", "A2", "A3", "A4", "A5", "A6", "A7", "Non-assisted leg", "N1", "N2", "N3", "N4", "N5", "N6", "N7"], "range": ["#9fd6ee", "#88c3e6", "#70aedb", "#5f9ad1", "#4a77c1", "#3d4fb0", "#3b2a8a", "#ffffff", "#fee08f", "#fecf6c", "#fdb843", "#f99a2b", "#ef7a10", "#d9560f", "#bf3a17"]},
                 "legend": {"title": "Assisted leg", "labelExpr": "length(datum.label) == 2 ? 'P' + slice(datum.label, 1) : datum.label",
                   "labelFontWeight": {"expr": "datum.value == 'Non-assisted leg' ? 'bold' : 'normal'"},
                   "labelFontSize": {"expr": "datum.value == 'Non-assisted leg' ? 20 : 19"},
                   "labelOffset": {"expr": "datum.value == 'Non-assisted leg' ? -50 : 6"}}}
             }},
            {"mark": {"type": "rule", "color": "black", "strokeWidth": 2},
             "encoding": {"y": {"field": "lo", "type": "quantitative"}, "y2": {"field": "hi"}}},
            {"transform": [{"fold": ["lo", "hi"], "as": ["end", "cap"]}],
             "mark": {"type": "tick", "color": "black", "thickness": 2, "size": 24},
             "encoding": {"y": {"field": "cap", "type": "quantitative"}}}
          ]
        },
        {
          "width": 184, "height": 227,
          "title": {"text": "4. Medial Gastrocnemius", "offset": 7},
          "data": {"name": "bars"},
          "transform": [{"filter": "datum.leg == 'A' && datum.muscle == 'MG'"}],
          "encoding": {"x": {"field": "trial", "type": "nominal", "scale": {"domain": ["Pre", "Free", "Active", "Post"], "paddingInner": 0.4, "paddingOuter": 0.2}, "axis": {"title": null}}},
          "layer": [
            {"mark": {"type": "bar", "color": "#cde1ea", "width": {"band": 0.87}},
             "encoding": {"y": {"field": "mean", "type": "quantitative", "title": null, "scale": {"domain": [0, 208], "nice": false}, "axis": {"values": [0, 50, 100, 150, 200]}}}},
            {"data": {"name": "A_MG"},
             "transform": [{"window": [{"op": "row_number", "as": "k"}], "groupby": ["trial"]}, {"calculate": "'A' + slice(datum.p, 1)", "as": "key"}],
             "mark": {"type": "circle", "size": 85, "opacity": 1},
             "encoding": {
               "xOffset": {"field": "k", "type": "nominal", "scale": {"domain": [12, 3, 19, 7, 15, 1, 22, 9, 17, 5, 20, 11, 2, 14, 23, 8, 18, 4, 13, 21, 6, 16, 10]}},
               "y": {"field": "v", "type": "quantitative"},
               "color": {"field": "key", "type": "nominal", "scale": {"domain": ["A1", "A2", "A3", "A4", "A5", "A6", "A7", "Non-assisted leg", "N1", "N2", "N3", "N4", "N5", "N6", "N7"], "range": ["#9fd6ee", "#88c3e6", "#70aedb", "#5f9ad1", "#4a77c1", "#3d4fb0", "#3b2a8a", "#ffffff", "#fee08f", "#fecf6c", "#fdb843", "#f99a2b", "#ef7a10", "#d9560f", "#bf3a17"]},
                 "legend": {"title": "Assisted leg", "labelExpr": "length(datum.label) == 2 ? 'P' + slice(datum.label, 1) : datum.label",
                   "labelFontWeight": {"expr": "datum.value == 'Non-assisted leg' ? 'bold' : 'normal'"},
                   "labelFontSize": {"expr": "datum.value == 'Non-assisted leg' ? 20 : 19"},
                   "labelOffset": {"expr": "datum.value == 'Non-assisted leg' ? -50 : 6"}}}
             }},
            {"mark": {"type": "rule", "color": "black", "strokeWidth": 2},
             "encoding": {"y": {"field": "lo", "type": "quantitative"}, "y2": {"field": "hi"}}},
            {"transform": [{"fold": ["lo", "hi"], "as": ["end", "cap"]}],
             "mark": {"type": "tick", "color": "black", "thickness": 2, "size": 24},
             "encoding": {"y": {"field": "cap", "type": "quantitative"}}}
          ]
        }
      ]
    },
    {
      "title": {"text": "b. Non-assisted Leg", "orient": "left", "anchor": "middle", "offset": 13},
      "spacing": 36,
      "hconcat": [
        {
          "width": 184, "height": 225,
          "data": {"name": "bars"},
          "transform": [{"filter": "datum.leg == 'N' && datum.muscle == 'RF'"}],
          "encoding": {"x": {"field": "trial", "type": "nominal", "scale": {"domain": ["Pre", "Free", "Active", "Post"], "paddingInner": 0.4, "paddingOuter": 0.2}, "axis": {"title": "Trials"}}},
          "layer": [
            {"mark": {"type": "bar", "color": "#cde1ea", "width": {"band": 0.87}},
             "encoding": {"y": {"field": "mean", "type": "quantitative", "title": "RTEMG(%)", "scale": {"domain": [0, 200], "nice": false}, "axis": {"values": [0, 50, 100, 150, 200]}}}},
            {"data": {"name": "N_RF"},
             "transform": [{"window": [{"op": "row_number", "as": "k"}], "groupby": ["trial"]}, {"calculate": "'N' + slice(datum.p, 1)", "as": "key"}],
             "mark": {"type": "circle", "size": 85, "opacity": 1},
             "encoding": {
               "xOffset": {"field": "k", "type": "nominal", "scale": {"domain": [12, 3, 19, 7, 15, 1, 22, 9, 17, 5, 20, 11, 2, 14, 23, 8, 18, 4, 13, 21, 6, 16, 10]}},
               "y": {"field": "v", "type": "quantitative"},
               "color": {"field": "key", "type": "nominal", "scale": {"domain": ["A1", "A2", "A3", "A4", "A5", "A6", "A7", "Non-assisted leg", "N1", "N2", "N3", "N4", "N5", "N6", "N7"], "range": ["#9fd6ee", "#88c3e6", "#70aedb", "#5f9ad1", "#4a77c1", "#3d4fb0", "#3b2a8a", "#ffffff", "#fee08f", "#fecf6c", "#fdb843", "#f99a2b", "#ef7a10", "#d9560f", "#bf3a17"]},
                 "legend": {"title": "Assisted leg", "labelExpr": "length(datum.label) == 2 ? 'P' + slice(datum.label, 1) : datum.label",
                   "labelFontWeight": {"expr": "datum.value == 'Non-assisted leg' ? 'bold' : 'normal'"},
                   "labelFontSize": {"expr": "datum.value == 'Non-assisted leg' ? 20 : 19"},
                   "labelOffset": {"expr": "datum.value == 'Non-assisted leg' ? -50 : 6"}}}
             }},
            {"mark": {"type": "rule", "color": "black", "strokeWidth": 2},
             "encoding": {"y": {"field": "lo", "type": "quantitative"}, "y2": {"field": "hi"}}},
            {"transform": [{"fold": ["lo", "hi"], "as": ["end", "cap"]}],
             "mark": {"type": "tick", "color": "black", "thickness": 2, "size": 24},
             "encoding": {"y": {"field": "cap", "type": "quantitative"}}}
          ]
        },
        {
          "width": 184, "height": 225,
          "data": {"name": "bars"},
          "transform": [{"filter": "datum.leg == 'N' && datum.muscle == 'TA'"}],
          "encoding": {"x": {"field": "trial", "type": "nominal", "scale": {"domain": ["Pre", "Free", "Active", "Post"], "paddingInner": 0.4, "paddingOuter": 0.2}, "axis": {"title": "Trials"}}},
          "layer": [
            {"mark": {"type": "bar", "color": "#cde1ea", "width": {"band": 0.87}},
             "encoding": {"y": {"field": "mean", "type": "quantitative", "title": null, "scale": {"domain": [0, 150], "nice": false}, "axis": {"values": [0, 50, 100, 150]}}}},
            {"data": {"name": "N_TA"},
             "transform": [{"window": [{"op": "row_number", "as": "k"}], "groupby": ["trial"]}, {"calculate": "'N' + slice(datum.p, 1)", "as": "key"}],
             "mark": {"type": "circle", "size": 85, "opacity": 1},
             "encoding": {
               "xOffset": {"field": "k", "type": "nominal", "scale": {"domain": [12, 3, 19, 7, 15, 1, 22, 9, 17, 5, 20, 11, 2, 14, 23, 8, 18, 4, 13, 21, 6, 16, 10]}},
               "y": {"field": "v", "type": "quantitative"},
               "color": {"field": "key", "type": "nominal", "scale": {"domain": ["A1", "A2", "A3", "A4", "A5", "A6", "A7", "Non-assisted leg", "N1", "N2", "N3", "N4", "N5", "N6", "N7"], "range": ["#9fd6ee", "#88c3e6", "#70aedb", "#5f9ad1", "#4a77c1", "#3d4fb0", "#3b2a8a", "#ffffff", "#fee08f", "#fecf6c", "#fdb843", "#f99a2b", "#ef7a10", "#d9560f", "#bf3a17"]},
                 "legend": {"title": "Assisted leg", "labelExpr": "length(datum.label) == 2 ? 'P' + slice(datum.label, 1) : datum.label",
                   "labelFontWeight": {"expr": "datum.value == 'Non-assisted leg' ? 'bold' : 'normal'"},
                   "labelFontSize": {"expr": "datum.value == 'Non-assisted leg' ? 20 : 19"},
                   "labelOffset": {"expr": "datum.value == 'Non-assisted leg' ? -50 : 6"}}}
             }},
            {"mark": {"type": "rule", "color": "black", "strokeWidth": 2},
             "encoding": {"y": {"field": "lo", "type": "quantitative"}, "y2": {"field": "hi"}}},
            {"transform": [{"fold": ["lo", "hi"], "as": ["end", "cap"]}],
             "mark": {"type": "tick", "color": "black", "thickness": 2, "size": 24},
             "encoding": {"y": {"field": "cap", "type": "quantitative"}}}
          ]
        },
        {
          "width": 184, "height": 225,
          "data": {"name": "bars"},
          "transform": [{"filter": "datum.leg == 'N' && datum.muscle == 'BF'"}],
          "encoding": {"x": {"field": "trial", "type": "nominal", "scale": {"domain": ["Pre", "Free", "Active", "Post"], "paddingInner": 0.4, "paddingOuter": 0.2}, "axis": {"title": "Trials"}}},
          "layer": [
            {"mark": {"type": "bar", "color": "#cde1ea", "width": {"band": 0.87}},
             "encoding": {"y": {"field": "mean", "type": "quantitative", "title": null, "scale": {"domain": [0, 166], "nice": false}, "axis": {"values": [0, 50, 100, 150]}}}},
            {"data": {"name": "N_BF"},
             "transform": [{"window": [{"op": "row_number", "as": "k"}], "groupby": ["trial"]}, {"calculate": "'N' + slice(datum.p, 1)", "as": "key"}],
             "mark": {"type": "circle", "size": 85, "opacity": 1},
             "encoding": {
               "xOffset": {"field": "k", "type": "nominal", "scale": {"domain": [12, 3, 19, 7, 15, 1, 22, 9, 17, 5, 20, 11, 2, 14, 23, 8, 18, 4, 13, 21, 6, 16, 10]}},
               "y": {"field": "v", "type": "quantitative"},
               "color": {"field": "key", "type": "nominal", "scale": {"domain": ["A1", "A2", "A3", "A4", "A5", "A6", "A7", "Non-assisted leg", "N1", "N2", "N3", "N4", "N5", "N6", "N7"], "range": ["#9fd6ee", "#88c3e6", "#70aedb", "#5f9ad1", "#4a77c1", "#3d4fb0", "#3b2a8a", "#ffffff", "#fee08f", "#fecf6c", "#fdb843", "#f99a2b", "#ef7a10", "#d9560f", "#bf3a17"]},
                 "legend": {"title": "Assisted leg", "labelExpr": "length(datum.label) == 2 ? 'P' + slice(datum.label, 1) : datum.label",
                   "labelFontWeight": {"expr": "datum.value == 'Non-assisted leg' ? 'bold' : 'normal'"},
                   "labelFontSize": {"expr": "datum.value == 'Non-assisted leg' ? 20 : 19"},
                   "labelOffset": {"expr": "datum.value == 'Non-assisted leg' ? -50 : 6"}}}
             }},
            {"mark": {"type": "rule", "color": "black", "strokeWidth": 2},
             "encoding": {"y": {"field": "lo", "type": "quantitative"}, "y2": {"field": "hi"}}},
            {"transform": [{"fold": ["lo", "hi"], "as": ["end", "cap"]}],
             "mark": {"type": "tick", "color": "black", "thickness": 2, "size": 24},
             "encoding": {"y": {"field": "cap", "type": "quantitative"}}}
          ]
        },
        {
          "width": 184, "height": 225,
          "data": {"name": "bars"},
          "transform": [{"filter": "datum.leg == 'N' && datum.muscle == 'MG'"}],
          "encoding": {"x": {"field": "trial", "type": "nominal", "scale": {"domain": ["Pre", "Free", "Active", "Post"], "paddingInner": 0.4, "paddingOuter": 0.2}, "axis": {"title": "Trials"}}},
          "layer": [
            {"mark": {"type": "bar", "color": "#cde1ea", "width": {"band": 0.87}},
             "encoding": {"y": {"field": "mean", "type": "quantitative", "title": null, "scale": {"domain": [0, 200], "nice": false}, "axis": {"values": [0, 50, 100, 150, 200]}}}},
            {"data": {"name": "N_MG"},
             "transform": [{"window": [{"op": "row_number", "as": "k"}], "groupby": ["trial"]}, {"calculate": "'N' + slice(datum.p, 1)", "as": "key"}],
             "mark": {"type": "circle", "size": 85, "opacity": 1},
             "encoding": {
               "xOffset": {"field": "k", "type": "nominal", "scale": {"domain": [12, 3, 19, 7, 15, 1, 22, 9, 17, 5, 20, 11, 2, 14, 23, 8, 18, 4, 13, 21, 6, 16, 10]}},
               "y": {"field": "v", "type": "quantitative"},
               "color": {"field": "key", "type": "nominal", "scale": {"domain": ["A1", "A2", "A3", "A4", "A5", "A6", "A7", "Non-assisted leg", "N1", "N2", "N3", "N4", "N5", "N6", "N7"], "range": ["#9fd6ee", "#88c3e6", "#70aedb", "#5f9ad1", "#4a77c1", "#3d4fb0", "#3b2a8a", "#ffffff", "#fee08f", "#fecf6c", "#fdb843", "#f99a2b", "#ef7a10", "#d9560f", "#bf3a17"]},
                 "legend": {"title": "Assisted leg", "labelExpr": "length(datum.label) == 2 ? 'P' + slice(datum.label, 1) : datum.label",
                   "labelFontWeight": {"expr": "datum.value == 'Non-assisted leg' ? 'bold' : 'normal'"},
                   "labelFontSize": {"expr": "datum.value == 'Non-assisted leg' ? 20 : 19"},
                   "labelOffset": {"expr": "datum.value == 'Non-assisted leg' ? -50 : 6"}}}
             }},
            {"mark": {"type": "rule", "color": "black", "strokeWidth": 2},
             "encoding": {"y": {"field": "lo", "type": "quantitative"}, "y2": {"field": "hi"}}},
            {"transform": [{"fold": ["lo", "hi"], "as": ["end", "cap"]}],
             "mark": {"type": "tick", "color": "black", "thickness": 2, "size": 24},
             "encoding": {"y": {"field": "cap", "type": "quantitative"}}}
          ]
        }
      ]
    }
  ],
  "spacing": 20,
  "resolve": {"scale": {"color": "shared"}},
  "config": {
    "font": "Liberation Sans",
    "view": {"stroke": null},
    "axis": {"domainColor": "black", "domainWidth": 2, "tickColor": "black", "tickWidth": 2, "tickSize": 5, "labelColor": "black", "labelFontSize": 18, "titleColor": "black", "titleFontSize": 18, "titleFontWeight": "normal", "grid": false, "labelPadding": 4},
    "axisX": {"labelAngle": -30, "labelAlign": "center", "labelBaseline": "middle", "labelPadding": 14, "titlePadding": 12},
    "axisY": {"titlePadding": 22},
    "title": {"fontSize": 19, "fontWeight": "bold", "color": "black", "anchor": "middle", "offset": 4},
    "legend": {
      "orient": "right", "offset": 9, "padding": 8, "strokeColor": "black", "strokeWidth": 2,
      "titleFontSize": 20, "titleFontWeight": "bold", "titleColor": "black", "titlePadding": 10,
      "labelColor": "black", "labelLimit": 240,
      "symbolType": "circle", "symbolSize": 110, "symbolStrokeWidth": 0, "symbolOffset": 30,
      "rowPadding": 12.7
    }
  }
}
